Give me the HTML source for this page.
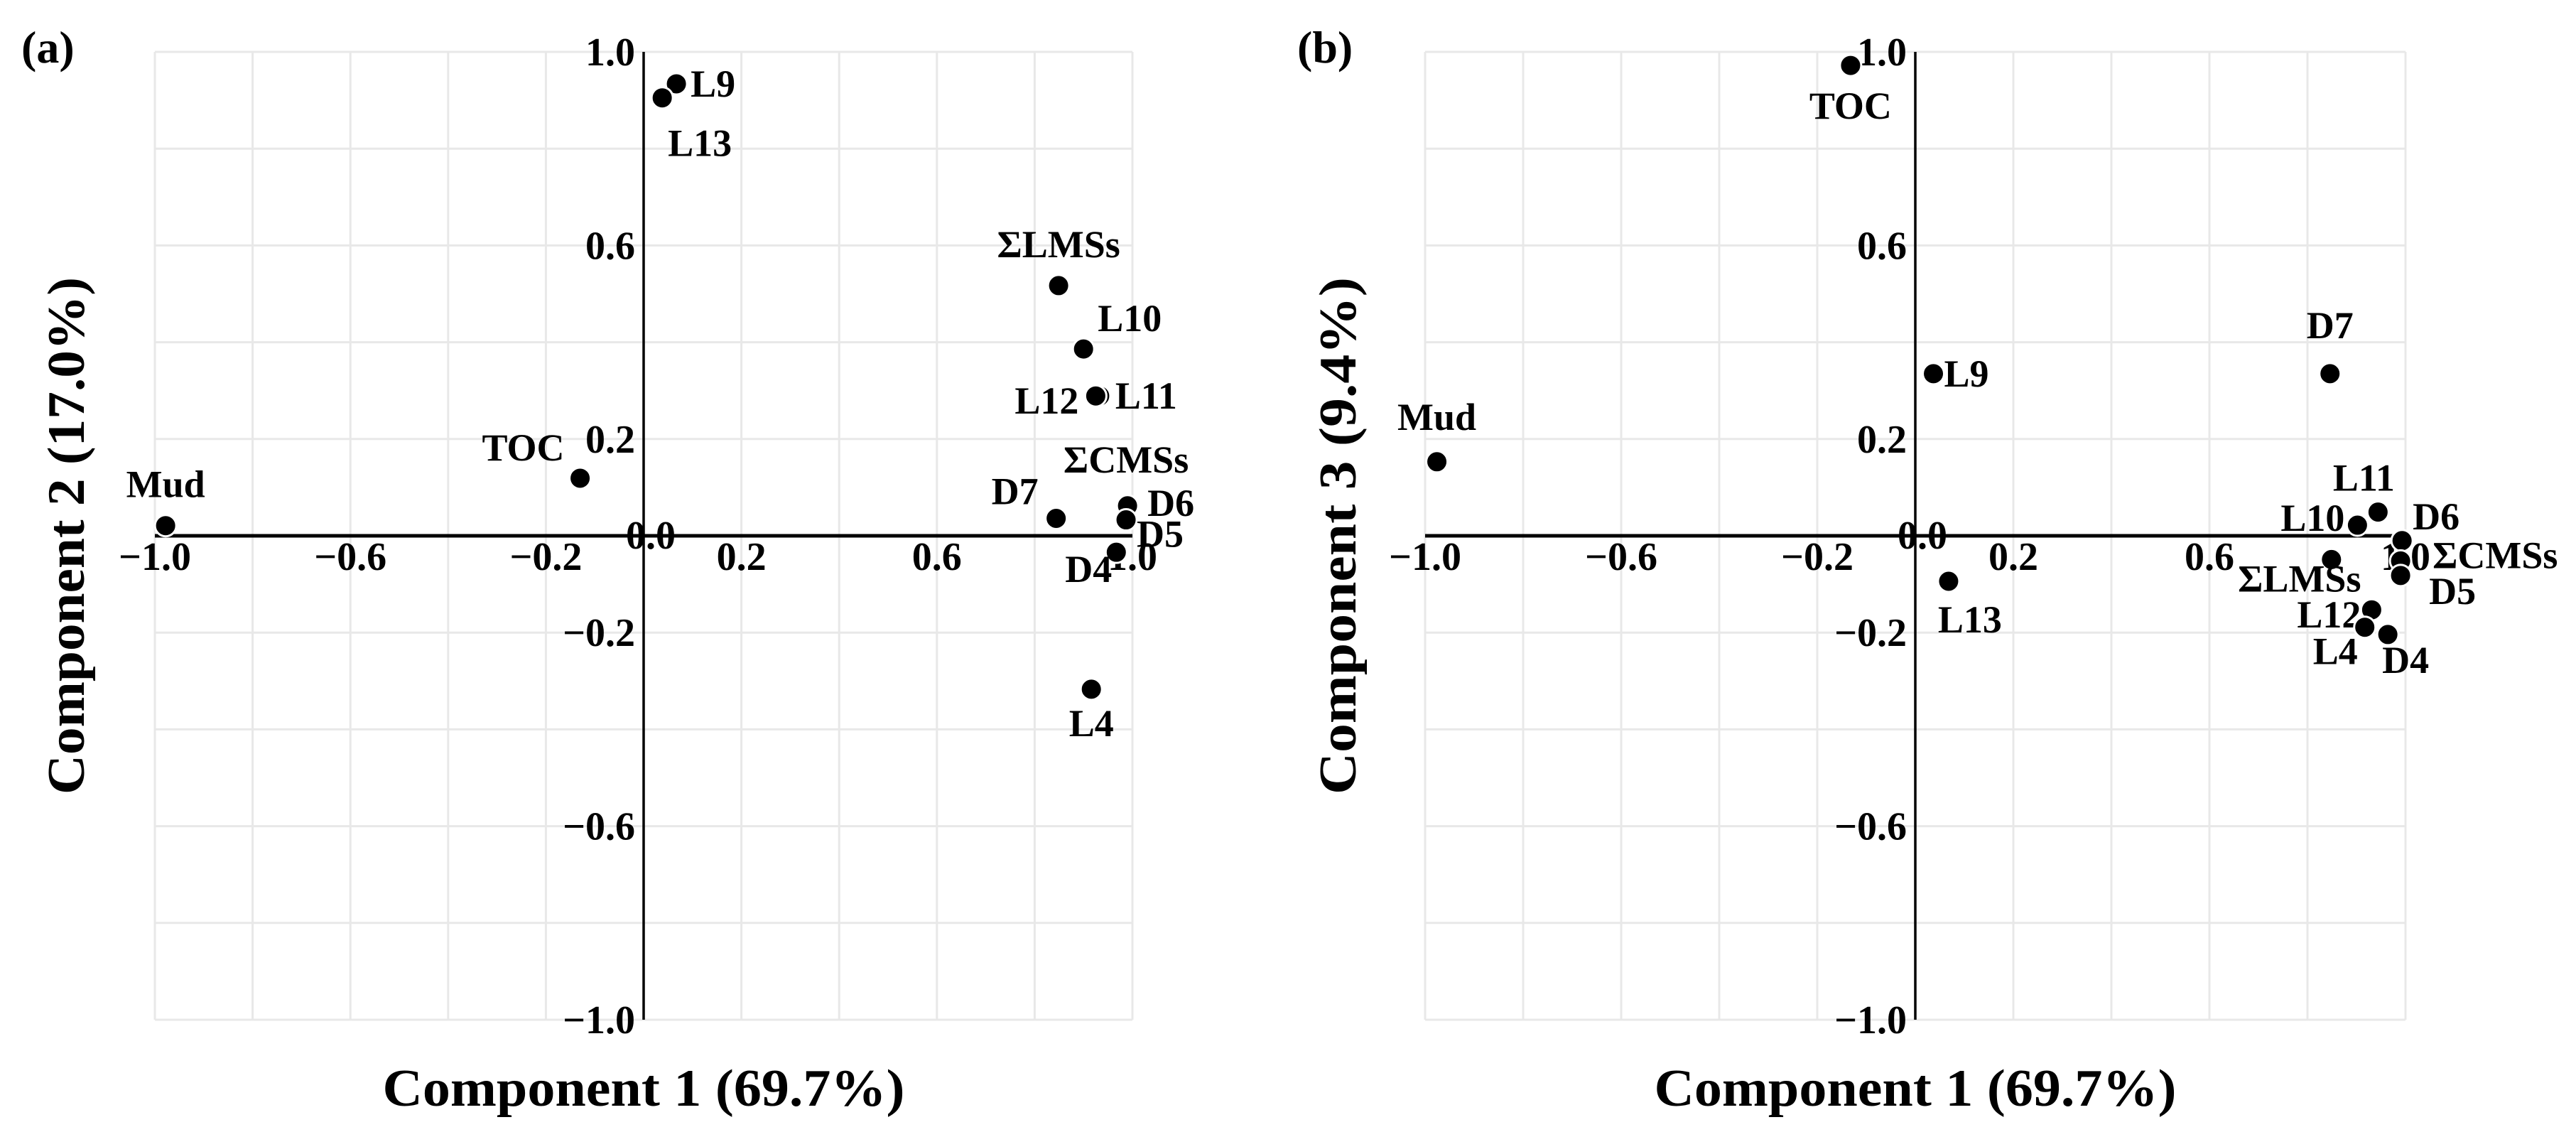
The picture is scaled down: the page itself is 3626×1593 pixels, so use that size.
<!DOCTYPE html>
<html><head><meta charset="utf-8"><style>
html,body{margin:0;padding:0;background:#fff}
svg{display:block}
text{font-family:"Liberation Serif",serif;font-weight:bold;fill:#000}
</style></head><body>
<svg id="chart" width="3626" height="1593" viewBox="0 0 3626 1593" xmlns="http://www.w3.org/2000/svg"></svg>
<script>
// Panel (a): Component 1 vs Component 2
const labelsA = ["Mud","TOC","L9","L13","ΣLMSs","L10","L11","L12","ΣCMSs","D6","D5","D7","D4","L4"];
const pc1A = [-0.978,-0.13,0.067,0.038,0.849,0.90,0.933,0.925,0.987,0.99,0.987,0.844,0.967,0.916];
const pc2A = [0.021,0.119,0.934,0.905,0.517,0.386,0.289,0.289,0.06,0.062,0.033,0.036,-0.034,-0.317];
// Panel (b): Component 1 vs Component 3
const labelsB = ["TOC","L9","Mud","L13","D7","L11","L10","D6","ΣCMSs","D5","ΣLMSs","L12","L4","D4"];
const pc1B = [-0.132,0.037,-0.976,0.068,0.846,0.944,0.902,0.993,0.99,0.99,0.849,0.931,0.917,0.964];
const pc3B = [0.972,0.335,0.153,-0.094,0.335,0.049,0.022,-0.01,-0.052,-0.082,-0.049,-0.153,-0.189,-0.204];
const xTicks = [-1.0,-0.6,-0.2,0.2,0.6,1.0];
const yTicks = [1.0,0.6,0.2,-0.2,-0.6,-1.0];
const gridVals = [-1,-0.8,-0.6,-0.4,-0.2,0,0.2,0.4,0.6,0.8,1];

// label placement (layout only): [dx, dy, anchor]
const offA = [[0,-40,"middle"],[-22,-25,"end"],[20,18,"start"],[8,82,"start"],[0,-40,"middle"],[20,-25,"start"],[22,18,"start"],[-24,25,"end"],[0,-48,"middle"],[28,14,"start"],[15,38,"start"],[-25,-20,"end"],[-6,42,"end"],[0,66,"middle"]];
const offB = [[0,75,"middle"],[15,18,"start"],[0,-45,"middle"],[30,72,"middle"],[0,-50,"middle"],[-20,-30,"middle"],[-18,8,"end"],[15,-16,"start"],[45,10,"start"],[40,40,"start"],[-45,45,"middle"],[-15,25,"end"],[-10,52,"end"],[25,54,"middle"]];

const NS="http://www.w3.org/2000/svg";
const svg=document.getElementById('chart');
function mk(tag,attrs,parent){const e=document.createElementNS(NS,tag);for(const k in attrs)e.setAttribute(k,attrs[k]);(parent||svg).appendChild(e);return e;}
function fmt(v){return (v<0?"\u2212"+Math.abs(v).toFixed(1):v.toFixed(1));}

function panel(cfg){
  const g=mk('g',{});
  
  
  const sx=v=>cfg.cx+v*cfg.hw;
  const sy=v=>cfg.cy-v*cfg.hh;
  gridVals.forEach(v=>{
    const l1=mk('line',{x1:sx(v),x2:sx(v),y1:sy(1),y2:sy(-1),stroke:'#e8e8e8','stroke-width':3},g);
    
    
    const l2=mk('line',{x1:sx(-1),x2:sx(1),y1:sy(v),y2:sy(v),stroke:'#e8e8e8','stroke-width':3},g);
    
    
  });
  const ax=mk('line',{x1:sx(-1),x2:sx(1),y1:sy(0),y2:sy(0),stroke:'#000','stroke-width':5},g);
  
  
  const ay=mk('line',{x1:sx(0),x2:sx(0),y1:sy(1),y2:sy(-1),stroke:'#000','stroke-width':3.5},g);
  
  
  xTicks.forEach(v=>{
    const t=mk('text',{x:sx(v),y:sy(0)+48,'font-size':56,'text-anchor':'middle'},g);
    t.textContent=fmt(v);
    
    
  });
  yTicks.forEach(v=>{
    const t=mk('text',{x:sx(0)-12,y:sy(v)+19,'font-size':56,'text-anchor':'end'},g);
    t.textContent=fmt(v);
    
    
  });
  const z=mk('text',{x:sx(0)+10,y:sy(0)+18,'font-size':56,'text-anchor':'middle'},g);
  z.textContent="0.0";
  
  
  cfg.labels.forEach((lab,i)=>{
    const px=sx(cfg.xs[i]),py=sy(cfg.ys[i]);
    const c=mk('circle',{cx:px,cy:py,r:15,fill:'#000',stroke:'#fff','stroke-width':3},g);
    
    
    const o=cfg.off[i];
    const t=mk('text',{x:px+o[0],y:py+o[1],'font-size':54,'text-anchor':o[2]},g);
    t.textContent=lab;
    
    
  });
  const xt=mk('text',{x:cfg.cx,y:1556,'font-size':74,'text-anchor':'middle',textLength:735,lengthAdjust:'spacingAndGlyphs'},g);
  xt.textContent="Component 1 (69.7%)";
  
  
  const yt=mk('text',{x:0,y:0,'font-size':74,'text-anchor':'middle',textLength:728,lengthAdjust:'spacingAndGlyphs',transform:`translate(${cfg.ytx},${cfg.cy}) rotate(-90)`},g);
  yt.textContent=cfg.ytitle;
  
  
  const pl=mk('text',{x:cfg.plx,y:88,'font-size':64},g);
  pl.textContent=cfg.panelLabel;
  
  
}

panel({name:'panel-a',cx:906,cy:754,hw:688,hh:681,labels:labelsA,xs:pc1A,ys:pc2A,off:offA,ytitle:"Component 2 (17.0%)",ytx:118,plx:30,panelLabel:"(a)"});
panel({name:'panel-b',cx:2696,cy:754,hw:690,hh:681,labels:labelsB,xs:pc1B,ys:pc3B,off:offB,ytitle:"Component 3 (9.4%)",ytx:1908,plx:1826,panelLabel:"(b)"});
</script>
</body></html>
